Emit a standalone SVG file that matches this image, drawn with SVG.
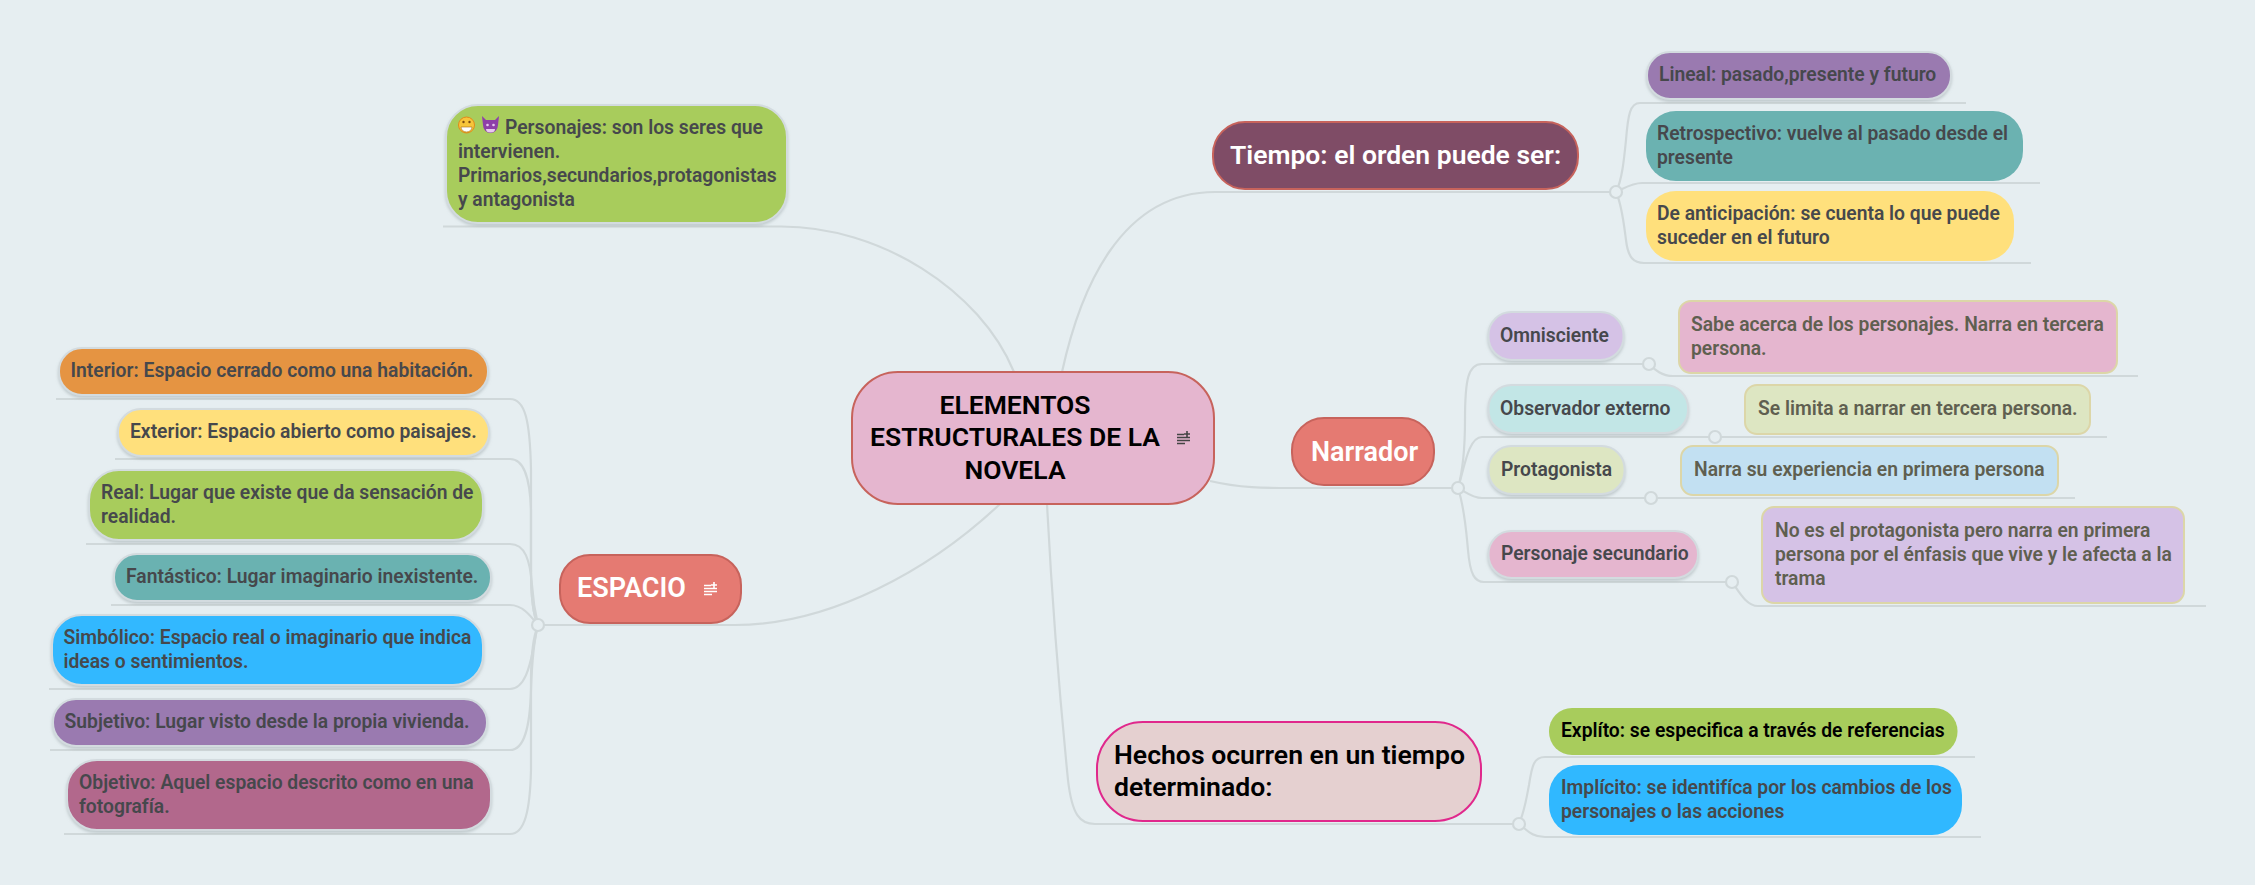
<svg xmlns="http://www.w3.org/2000/svg" width="2255" height="885" viewBox="0 0 2255 885">
<style>
text{font-family:"Roboto","Liberation Sans",sans-serif;font-weight:600;font-size:19.300px;fill:#46484c}
.n rect{filter:url(#sh)}
.p rect{stroke:#d3dbdf;stroke-width:2}
.b rect{stroke:#dcd6a8;stroke-width:2}
.dim{fill:#5f5f50}
.big{font-size:27px;fill:#fff}
.t{font-size:26.500px}
.blk{fill:#000}
.h{font-size:26.500px}
.h2{font-size:26.600px}
#cx path,#cx line{fill:none;stroke:#d0d8da;stroke-width:2.2}
#cx circle{fill:#e6eef1;stroke:#d0d8da;stroke-width:2.2}
.ic{stroke-width:1.6;fill:none}
</style>
<defs>
<filter id="sh" x="-5%" y="-10%" width="110%" height="125%"><feDropShadow dx="0" dy="2" stdDeviation="1.5" flood-color="#9aa4a8" flood-opacity=".5"/></filter>
</defs>
<rect width="2255" height="885" fill="#e6eef1"/>
<g id="cx">
<path d="M443 226.500H780C880 226 980 290 1014 372"/>
<path d="M538 625H735C830 625 930 570 1000 504"/>
<path d="M1062 372C1080 290 1120 192 1215 192H1616"/>
<path d="M1047 504C1052 600 1060 700 1068 780C1072 815 1080 824 1095 824H1519"/>
<path d="M1210 481C1240 488 1265 488 1290 488H1458"/>
<path d="M56 399H510C525 399 530 420 531 470V570C531 600 533 615 538 625"/>
<path d="M115 459H510C525 459 530 480 531 510V570C531 600 533 615 538 625"/>
<path d="M86 544H510C525 544 530 560 532 585C533 600 535 612 538 625"/>
<path d="M111 605H510C522 605 530 615 538 625"/>
<path d="M49 689H510C525 689 530 665 533 650C535 640 536 632 538 625"/>
<path d="M50 750H510C525 750 530 725 531 690C532 660 534 640 538 625"/>
<path d="M64 834H510C525 834 530 810 531 770V680C531 650 534 635 538 625"/>
<path d="M1616 192C1622 180 1624 160 1626 140C1628 115 1630 103 1640 103H1966"/>
<path d="M1616 192C1625 188 1632 183 1642 183H2040"/>
<path d="M1616 192C1622 205 1624 225 1626 240C1628 258 1634 263 1644 263H2031"/>
<path d="M1458 488C1463 470 1465 450 1465 420C1465 380 1468 364 1482 364H1649"/>
<path d="M1458 488C1464 470 1468 437 1482 437H1715"/>
<path d="M1458 488C1466 492 1472 498 1482 498H1651"/>
<path d="M1458 488C1465 510 1466 530 1468 550C1470 575 1475 582 1484 582H1732"/>
<path d="M1649 364C1655 370 1662 376 1673 376H2138"/>
<line x1="1715" y1="437" x2="2107" y2="437"/>
<line x1="1651" y1="498" x2="2075" y2="498"/>
<path d="M1732 582C1738 590 1746 606 1758 606H2206"/>
<path d="M1519 824C1525 810 1527 795 1529 785C1532 765 1534 757 1545 757H1975"/>
<path d="M1519 824C1527 830 1532 837 1545 837H1981"/>
<circle cx="538" cy="625" r="6"/><circle cx="1458" cy="488" r="6"/><circle cx="1616" cy="192" r="6"/><circle cx="1519" cy="824" r="6"/>
<circle cx="1649" cy="364" r="6"/><circle cx="1715" cy="437" r="6"/><circle cx="1651" cy="498" r="6"/><circle cx="1732" cy="582" r="6"/>
</g>
<g id="center"><rect x="852" y="372" width="362" height="132" rx="46" fill="#e5b6cf" stroke="#c7635c" stroke-width="2"/>
<text x="1015" y="414" text-anchor="middle" class="blk h">ELEMENTOS</text><text x="1015" y="446" text-anchor="middle" class="blk h">ESTRUCTURALES DE LA</text><text x="1015" y="479" text-anchor="middle" class="blk h">NOVELA</text>
<path class="ic" stroke="#444" d="M1177 434.500h7M1177 437.500h13M1177 440.500h13M1177 443.500h8M1187 431v6M1184 434h6"/></g>
<g id="personajes" class="n p"><rect x="446" y="105" width="341" height="118" rx="32" fill="#a8cc5c"/>
<circle cx="466.500" cy="125" r="8" fill="#f7c53a" stroke="#e08a1a" stroke-width="1"/><path d="M461 127h11a5.500 5 0 0 1-11 0z" fill="#fff" stroke="#a56a14" stroke-width=".6"/><circle cx="463.500" cy="122" r="1.200" fill="#7a4a10"/><circle cx="469.500" cy="122" r="1.200" fill="#7a4a10"/>
<path d="M482 116l4 4h9l4-4-1 9a7.500 8 0 0 1-15 0z" fill="#8e3fa8"/><circle cx="487.500" cy="125" r="1.300" fill="#e8c8f0"/><circle cx="493.500" cy="125" r="1.300" fill="#e8c8f0"/><path d="M486 129h9a4.500 3.500 0 0 1-9 0z" fill="#e8c8f0"/>
<text x="505" y="134">Personajes: son los seres que</text><text x="458" y="158">intervienen.</text><text x="458" y="182">Primarios,secundarios,protagonistas</text><text x="458" y="206">y antagonista</text></g>
<g id="espacio"><rect x="560" y="555" width="181" height="68" rx="30" fill="#e57a72" stroke="#c7635c" stroke-width="2"/><text x="577" y="597" class="big">ESPACIO</text>
<path class="ic" stroke="#fff" d="M704 585.500h7M704 588.500h13M704 591.500h13M704 594.500h8M714 582v6M711 585h6"/></g>
<g id="interior" class="n p"><rect x="59" y="348" width="429" height="47" rx="23" fill="#e59442"/><text x="70.500" y="377">Interior: Espacio cerrado como una habitación.</text></g>
<g id="exterior" class="n p"><rect x="118" y="409" width="371" height="47" rx="23" fill="#ffe07c"/><text x="130" y="438">Exterior: Espacio abierto como paisajes.</text></g>
<g id="real" class="n p"><rect x="89" y="470" width="394" height="70" rx="30" fill="#a8cc5c"/><text x="101" y="499">Real: Lugar que existe que da sensación de</text><text x="101" y="523">realidad.</text></g>
<g id="fantastico" class="n p"><rect x="114" y="554" width="377" height="47" rx="23" fill="#6bb2b1"/><text x="126" y="583">Fantástico: Lugar imaginario inexistente.</text></g>
<g id="simbolico" class="n p"><rect x="52" y="615" width="431" height="70" rx="30" fill="#30b8ff"/><text x="63.500" y="644">Simbólico: Espacio real o imaginario que indica</text><text x="63.500" y="668">ideas o sentimientos.</text></g>
<g id="subjetivo" class="n p"><rect x="53" y="699" width="434" height="47" rx="23" fill="#9a7ab0"/><text x="64.500" y="728">Subjetivo: Lugar visto desde la propia vivienda.</text></g>
<g id="objetivo" class="n p"><rect x="67" y="760" width="424" height="70" rx="30" fill="#b2678c"/><text x="79" y="789">Objetivo: Aquel espacio descrito como en una</text><text x="79" y="813">fotografía.</text></g>
<g id="tiempo"><rect x="1213" y="122" width="365" height="67" rx="32" fill="#7f4c66" stroke="#c7635c" stroke-width="2"/><text x="1230" y="164" class="big t">Tiempo: el orden puede ser:</text></g>
<g id="lineal" class="n p"><rect x="1647" y="52" width="304" height="47" rx="23" fill="#9a7ab0"/><text x="1659" y="81">Lineal: pasado,presente y futuro</text></g>
<g id="retro"><rect x="1646" y="111" width="377" height="70" rx="30" fill="#6bb2b1"/><text x="1657" y="140">Retrospectivo: vuelve al pasado desde el</text><text x="1657" y="164">presente</text></g>
<g id="anticipacion"><rect x="1646" y="191" width="368" height="70" rx="30" fill="#ffe07c"/><text x="1657" y="220">De anticipación: se cuenta lo que puede</text><text x="1657" y="244">suceder en el futuro</text></g>
<g id="narrador"><rect x="1292" y="418" width="142" height="67" rx="32" fill="#e57a72" stroke="#c7635c" stroke-width="2"/><text x="1311" y="461" class="big">Narrador</text></g>
<g id="omnisciente" class="n p"><rect x="1488.500" y="312" width="135" height="48" rx="23" fill="#d5c2e6"/><text x="1500" y="342">Omnisciente</text></g>
<g id="observador" class="n p"><rect x="1488.500" y="385" width="199.500" height="48" rx="23" fill="#c2e6e6"/><text x="1500" y="415">Observador externo</text></g>
<g id="protagonista" class="n p"><rect x="1488.500" y="446" width="136" height="48" rx="23" fill="#dde6c2"/><text x="1501" y="476">Protagonista</text></g>
<g id="secundario" class="n p"><rect x="1488.500" y="531" width="209.500" height="47" rx="23" fill="#e5b6cf"/><text x="1501" y="560">Personaje secundario</text></g>
<g id="sabe" class="b"><rect x="1679" y="301" width="438" height="72" rx="12" fill="#e5b6cf"/><text x="1691" y="331" class="dim">Sabe acerca de los personajes. Narra en tercera</text><text x="1691" y="355" class="dim">persona.</text></g>
<g id="limita" class="b"><rect x="1745" y="385" width="345" height="49" rx="12" fill="#dde6c2"/><text x="1758" y="415" class="dim">Se limita a narrar en tercera persona.</text></g>
<g id="narra" class="b"><rect x="1681" y="446" width="377" height="49" rx="12" fill="#c2e0f2"/><text x="1694" y="476" class="dim">Narra su experiencia en primera persona</text></g>
<g id="noes" class="b"><rect x="1762" y="507" width="422" height="96" rx="12" fill="#d5c2e6"/><text x="1775" y="537" class="dim">No es el protagonista pero narra en primera</text><text x="1775" y="561" class="dim">persona por el énfasis que vive y le afecta a la</text><text x="1775" y="585" class="dim">trama</text></g>
<g id="hechos"><rect x="1097" y="722" width="384" height="99" rx="46" fill="#e5d0d0" stroke="#e0288c" stroke-width="2"/><text x="1114" y="764" class="blk h2">Hechos ocurren en un tiempo</text><text x="1114" y="796" class="blk h2">determinado:</text></g>
<g id="explicito"><rect x="1549" y="708" width="408.500" height="47" rx="23" fill="#a8cc5c"/><text x="1561" y="737" class="blk">Explíto: se especifica a través de referencias</text></g>
<g id="implicito"><rect x="1549" y="765" width="413" height="70" rx="30" fill="#30b8ff"/><text x="1561" y="794">Implícito: se identifíca por los cambios de los</text><text x="1561" y="818">personajes o las acciones</text></g>
</svg>
